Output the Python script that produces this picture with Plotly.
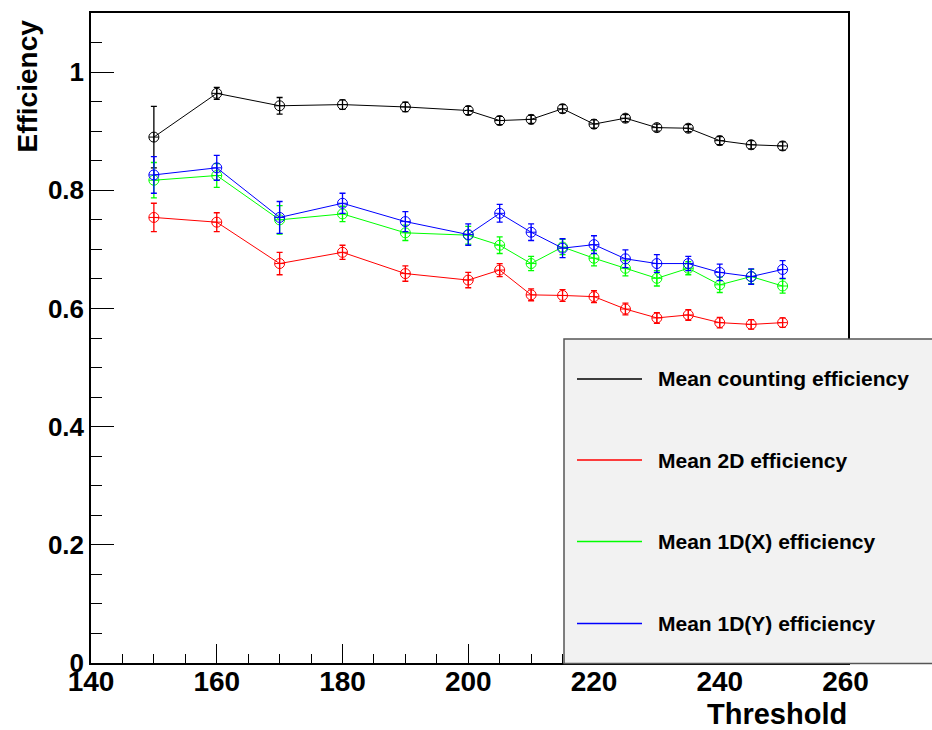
import plotly.graph_objects as go

thresholds = [150, 160, 170, 180, 190, 200, 205, 210, 215, 220, 225, 230, 235, 240, 245, 250]

counting = [0.890, 0.964, 0.943, 0.945, 0.941, 0.935, 0.918, 0.920, 0.938, 0.912, 0.922, 0.906, 0.905, 0.884, 0.877, 0.875]
counting_err = [0.052, 0.010, 0.014, 0.008, 0.008, 0.007, 0.007, 0.007, 0.007, 0.007, 0.006, 0.006, 0.006, 0.007, 0.007, 0.007]

eff2d = [0.754, 0.746, 0.676, 0.695, 0.659, 0.648, 0.665, 0.623, 0.622, 0.620, 0.599, 0.584, 0.589, 0.576, 0.573, 0.576]
eff2d_err = [0.024, 0.016, 0.019, 0.012, 0.013, 0.013, 0.011, 0.010, 0.010, 0.010, 0.010, 0.009, 0.009, 0.009, 0.008, 0.008]

eff1dx = [0.817, 0.825, 0.750, 0.760, 0.728, 0.724, 0.707, 0.676, 0.704, 0.685, 0.668, 0.651, 0.668, 0.640, 0.654, 0.638]
eff1dx_err = [0.030, 0.020, 0.024, 0.013, 0.013, 0.015, 0.014, 0.012, 0.013, 0.013, 0.013, 0.013, 0.011, 0.013, 0.012, 0.012]

eff1dy = [0.826, 0.838, 0.754, 0.778, 0.747, 0.725, 0.761, 0.729, 0.702, 0.708, 0.684, 0.676, 0.676, 0.661, 0.654, 0.666]
eff1dy_err = [0.031, 0.021, 0.027, 0.017, 0.017, 0.018, 0.015, 0.014, 0.016, 0.015, 0.015, 0.015, 0.012, 0.014, 0.013, 0.015]

series_names = ["Mean counting efficiency", "Mean 2D efficiency", "Mean 1D(X) efficiency", "Mean 1D(Y) efficiency"]
series_values = [counting, eff2d, eff1dx, eff1dy]
series_errors = [counting_err, eff2d_err, eff1dx_err, eff1dy_err]
series_colors = ["#000000", "#ff0000", "#00ff00", "#0000ff"]

x_title = "Threshold"
y_title = "Efficiency"

FONT = "Liberation Sans, Arial, Helvetica, sans-serif"

fig = go.Figure()
for name, vals, errs, col in zip(series_names, series_values, series_errors, series_colors):
    fig.add_trace(go.Scatter(
        x=thresholds, y=vals, name=name, mode="lines+markers",
        line=dict(color=col, width=1),
        marker=dict(symbol="circle-cross-open", size=10, color=col, line=dict(color=col, width=1)),
        error_y=dict(type="data", array=errs, visible=True, color=col, thickness=1.3, width=3),
        showlegend=False,
    ))

L, R, T, B = 91, 84, 13, 67
W, H = 932, 730
pw, ph = W - L - R, H - T - B

def px(x):
    return (x - L) / pw

def py(y):
    return (H - B - y) / ph

shapes = [dict(type="rect", xref="paper", yref="paper",
               x0=px(564), x1=px(940), y0=py(663.5), y1=py(339),
               fillcolor="#f2f2f2", line=dict(color="#555555", width=1.5), layer="above")]
annotations = []
legend_y = [379, 460, 541.5, 623.5]
for name, col, yy in zip(series_names, series_colors, legend_y):
    shapes.append(dict(type="line", xref="paper", yref="paper",
                       x0=px(577), x1=px(642), y0=py(yy), y1=py(yy),
                       line=dict(color=col, width=1.5), layer="above"))
    annotations.append(dict(xref="paper", yref="paper", x=px(656), y=py(yy),
                            xanchor="left", yanchor="middle", showarrow=False,
                            text=name, font=dict(family=FONT, size=21, color="#000000", weight="bold")))

annotations.append(dict(xref="paper", yref="paper", x=px(849), y=py(714),
                        xanchor="right", yanchor="middle", showarrow=False,
                        text=x_title, font=dict(family=FONT, size=29, color="#000000", weight="bold")))
annotations.append(dict(xref="paper", yref="paper", x=px(27), y=py(18),
                        xanchor="center", yanchor="top", showarrow=False, textangle=-90,
                        text=y_title, font=dict(family=FONT, size=28, color="#000000", weight="bold")))

fig.update_layout(
    width=W, height=H,
    margin=dict(l=L, r=R, t=T, b=B, pad=0),
    paper_bgcolor="white", plot_bgcolor="white",
    shapes=shapes, annotations=annotations,
    showlegend=False,
)
fig.update_xaxes(
    range=[140, 260.4], showgrid=False, zeroline=False,
    showline=True, linecolor="#000000", linewidth=1.5, mirror=True,
    ticks="inside", ticklen=19, tickwidth=1, tickcolor="#000000",
    tick0=140, dtick=20, ticklabelstandoff=-7,
    minor=dict(ticks="inside", ticklen=9, dtick=5, tick0=140, tickcolor="#000000", showgrid=False),
    tickfont=dict(family=FONT, size=28, color="#000000", weight="bold"),
)
fig.update_yaxes(
    range=[0, 1.1], showgrid=False, zeroline=False,
    showline=True, linecolor="#000000", linewidth=1.5, mirror=True,
    ticks="inside", ticklen=23, tickwidth=1, tickcolor="#000000",
    tick0=0, dtick=0.2, tickformat="~g",
    minor=dict(ticks="inside", ticklen=11, dtick=0.05, tick0=0, tickcolor="#000000", showgrid=False),
    tickfont=dict(family=FONT, size=26, color="#000000", weight="bold"),
)

fig.write_html("out.html", config={"displayModeBar": False},
               post_script="document.body.style.margin='0';document.body.style.overflow='hidden';")
